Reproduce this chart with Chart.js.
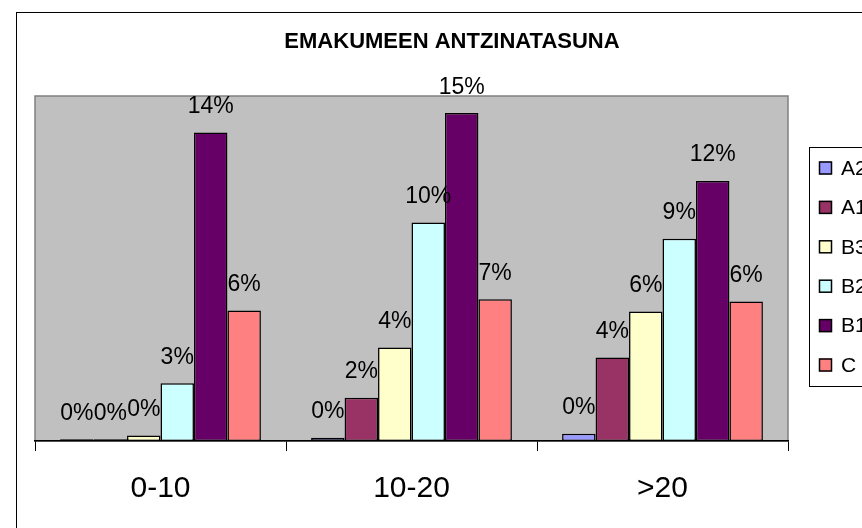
<!DOCTYPE html>
<html><head><meta charset="utf-8">
<script src="https://cdn.jsdelivr.net/npm/chart.js@4/dist/chart.umd.min.js"></script>
<style>
html,body{margin:0;padding:0;background:#fff;overflow:hidden;width:862px;height:528px;}
#frame{position:absolute;left:16px;top:12px;width:920px;height:600px;border:1px solid #000;box-sizing:border-box;}
#wrap{position:absolute;left:0;top:0;width:869px;height:528px;}
</style></head><body>
<div id="frame"></div>
<div id="wrap"><canvas id="c" width="869" height="528"></canvas></div>
<script>
// ---- data (percent) ----
const categories = ['0-10', '10-20', '>20'];
const seriesNames = ['A2', 'A1', 'B3', 'B2', 'B1', 'C'];
const A2 = [0.08, 0.15, 0.34];
const A1 = [0.08, 2.01, 3.87];
const B3 = [0.25, 4.34, 6.01];
const B2 = [2.68, 10.13, 9.38];
const B1 = [14.31, 15.21, 12.06];
const C  = [6.05, 6.57, 6.47];
const yMax = 16;
const seriesValues = [A2, A1, B3, B2, B1, C];
const seriesColors = ['#9999FF', '#993366', '#FFFFCC', '#CCFFFF', '#660066', '#FF8080'];

const FONT = 'Liberation Sans, Arial, sans-serif';

const plotBg = {
  id: 'plotBg',
  beforeDraw(chart) {
    const {ctx, chartArea: a} = chart;
    ctx.save();
    ctx.fillStyle = '#C0C0C0';
    ctx.fillRect(a.left, a.top, a.right - a.left, a.bottom - a.top);
    ctx.strokeStyle = '#808080';
    ctx.lineWidth = 1.5;
    ctx.strokeRect(a.left, a.top, a.right - a.left, a.bottom - a.top);
    ctx.restore();
  }
};

const valueLabels = {
  id: 'valueLabels',
  afterDatasetsDraw(chart) {
    const {ctx} = chart;
    ctx.save();
    ctx.font = '23px ' + FONT;
    ctx.fillStyle = '#000';
    ctx.textAlign = 'center';
    ctx.textBaseline = 'alphabetic';
    chart.data.datasets.forEach((ds, di) => {
      const meta = chart.getDatasetMeta(di);
      meta.data.forEach((el, i) => {
        ctx.fillText(Math.round(ds.data[i]) + '%', el.x, el.y - 19.5);
      });
    });
    ctx.restore();
  }
};

const boxLegend = {
  id: 'boxLegend',
  afterDraw(chart) {
    const {ctx, chartArea: a} = chart;
    const lx = a.right + 21, ly = a.top + 51;
    ctx.save();
    ctx.fillStyle = '#fff';
    ctx.fillRect(lx, ly, 200, 239);
    ctx.strokeStyle = '#000';
    ctx.lineWidth = 1;
    ctx.strokeRect(lx + 0.5, ly + 0.5, 200, 239);
    ctx.font = '21px ' + FONT;
    ctx.textAlign = 'left';
    ctx.textBaseline = 'middle';
    chart.data.datasets.forEach((ds, i) => {
      const cy = ly + 21 + i * 39.4;
      ctx.fillStyle = ds.backgroundColor;
      ctx.fillRect(lx + 10, cy - 6.5, 13, 13);
      ctx.strokeStyle = '#000';
      ctx.lineWidth = 1.5;
      ctx.strokeRect(lx + 10.5, cy - 6, 12, 12);
      ctx.fillStyle = '#000';
      ctx.fillText(ds.label, lx + 32, cy + 1);
    });
    ctx.restore();
  }
};

new Chart(document.getElementById('c'), {
  type: 'bar',
  data: {
    labels: categories,
    datasets: seriesNames.map((n, i) => ({
      label: n,
      data: seriesValues[i],
      backgroundColor: seriesColors[i],
      borderColor: '#000',
      borderWidth: 1.5,
      borderSkipped: false,
      categoryPercentage: 0.8,
      barPercentage: 1.0
    }))
  },
  options: {
    responsive: false,
    animation: false,
    layout: {padding: {left: 35, right: 0, top: 0, bottom: 0}},
    plugins: {
      legend: {display: false},
      tooltip: {enabled: false},
      title: {
        display: true,
        text: 'EMAKUMEEN ANTZINATASUNA',
        color: '#000',
        font: {family: FONT, size: 22, weight: 'bold'},
        padding: {top: 28.3, bottom: 41.3}
      }
    },
    scales: {
      x: {
        offset: true,
        grid: {display: true, drawOnChartArea: false, offset: true, tickLength: 10, color: '#000', lineWidth: 1},
        border: {display: true, color: '#000', width: 1.5},
        ticks: {font: {family: FONT, size: 30}, color: '#000', padding: 19.5, maxRotation: 0},
        afterFit(s) { s.height = 87; }
      },
      y: {
        position: 'right',
        min: 0,
        max: yMax,
        ticks: {display: false},
        grid: {display: false},
        border: {display: false},
        afterFit(s) { s.width = 81; }
      }
    }
  },
  plugins: [plotBg, valueLabels, boxLegend]
});
</script>
</body></html>
